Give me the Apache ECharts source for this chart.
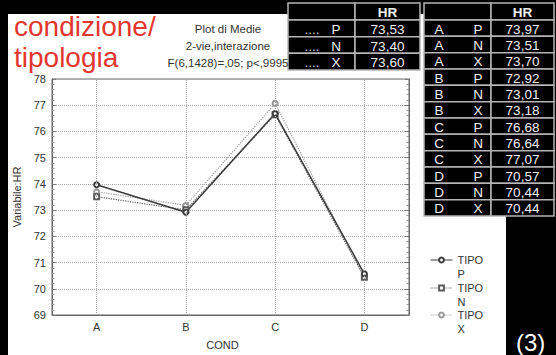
<!DOCTYPE html>
<html>
<head>
<meta charset="utf-8">
<script src="https://cdn.jsdelivr.net/npm/echarts@6/dist/echarts.min.js"></script>
<style>
  html, body { margin: 0; padding: 0; background: #000; }
  #chart { width: 556px; height: 355px; }
</style>
</head>
<body>
<div id="chart"></div>
<script>
// Means of HR by condition (COND) and type (TIPO)
const categories = ['A', 'B', 'C', 'D'];
const tipi = ['P', 'N', 'X'];
const hrP = [73.97, 72.92, 76.68, 70.57];
const hrN = [73.51, 73.01, 76.64, 70.44];
const hrX = [73.70, 73.18, 77.07, 70.44];
// Marginal means per TIPO
const hrTipo = [73.53, 73.40, 73.60];
// Y axis range
const yMin = 69;
const yMax = 78;
const yStep = 1;

const FONT = "'Liberation Sans', Arial, Helvetica, sans-serif";
const fmt = v => v.toFixed(2).replace('.', ',');
const byTipo = { P: hrP, N: hrN, X: hrX };

// ---- black tables drawn with graphic elements ----
function cell(x, y, w, h) {
  return { type: 'rect', shape: { x, y, width: w, height: h },
           style: { fill: '#000', stroke: '#b5b5b5', lineWidth: 1.5 } };
}
function txt(x, y, text, bold, color) {
  return { type: 'text', x, y,
           style: { text, fill: color || '#efefef', font: (bold ? 'bold ' : '') + '13.5px ' + FONT,
                    textAlign: 'center', textVerticalAlign: 'middle' } };
}

const tables = [];
// table of marginal means
{
  const x0 = 288, xs = 355, x1 = 420, hy0 = 3, hy1 = 20, rh = 16.67;
  tables.push(cell(x0, hy0, xs - x0, hy1 - hy0), cell(xs, hy0, x1 - xs, hy1 - hy0));
  tables.push(txt((xs + x1) / 2, (hy0 + hy1) / 2 + 1, 'HR', true));
  tipi.forEach((t, i) => {
    const y = hy1 + i * rh;
    tables.push(cell(x0, y, xs - x0, rh), cell(xs, y, x1 - xs, rh));
    tables.push(txt(312, y + rh / 2 + 1, '....', false, '#cfcfcf'));
    tables.push(txt(336, y + rh / 2 + 1, t));
    tables.push(txt((xs + x1) / 2, y + rh / 2 + 1, fmt(hrTipo[i])));
  });
}
// table of cell means
{
  const x0 = 424, xs = 491, x1 = 554, hy0 = 3, hy1 = 20, rh = 16.33;
  tables.push(cell(x0, hy0, xs - x0, hy1 - hy0), cell(xs, hy0, x1 - xs, hy1 - hy0));
  tables.push(txt((xs + x1) / 2, (hy0 + hy1) / 2 + 1, 'HR', true));
  let r = 0;
  categories.forEach((c, ci) => {
    tipi.forEach(t => {
      const y = hy1 + r * rh;
      tables.push(cell(x0, y, xs - x0, rh), cell(xs, y, x1 - xs, rh));
      tables.push(txt(439, y + rh / 2 + 1, c));
      tables.push(txt(478, y + rh / 2 + 1, t));
      tables.push(txt((xs + x1) / 2, y + rh / 2 + 1, fmt(byTipo[t][ci])));
      r++;
    });
  });
}

const chart = echarts.init(document.getElementById('chart'), null, { renderer: 'svg' });

const seriesStyle = {
  P: { color: '#3c3c3c', type: 'solid', width: 1.5, symbol: 'emptyCircle', size: 5 },
  N: { color: '#5a5a5a', type: 'dotted', width: 1.2, symbol: 'emptyRect', size: 5 },
  X: { color: '#999999', type: 'dotted', width: 1.2, symbol: 'emptyCircle', size: 5 }
};

function lineSeries(t, withGrid) {
  const s = seriesStyle[t];
  const out = {
    name: t, type: 'line', data: byTipo[t],
    symbol: s.symbol, symbolSize: s.size,
    lineStyle: { color: s.color, width: s.width, type: s.type },
    itemStyle: { color: s.color, borderColor: s.color, borderWidth: 1.1 },
    emphasis: { disabled: true }, animation: false
  };
  if (withGrid) {
    out.markLine = {
      silent: true, symbol: 'none', animation: false,
      label: { show: false },
      lineStyle: { color: '#a8a8a8', type: 'dotted', width: 1 },
      data: categories.map(c => ({ xAxis: c }))
    };
  }
  return out;
}

// legend text is three lines with a blank first line, so the icon sits beside "TIPO"
const legendTops = [234, 262, 289];
const yAxisBase = {
  type: 'value', min: yMin, max: yMax, interval: yStep,
  axisLine: { show: true, lineStyle: { color: '#666', width: 1 } },
  axisTick: { show: true, inside: true, length: 4, lineStyle: { color: '#777' } },
  minorTick: { show: true, splitNumber: 5, length: 2.5, lineStyle: { color: '#999' } }
};

chart.setOption({
  backgroundColor: '#000',
  animation: false,
  textStyle: { fontFamily: FONT },
  graphic: [
    { type: 'rect', z: -10, shape: { x: 8, y: 14, width: 498, height: 341 }, style: { fill: '#fff' } },
    { type: 'group', children: tables }
  ],
  title: [
    { text: 'condizione/\ntipologia', left: 9, top: 6,
      textStyle: { color: '#e2362f', fontSize: 28, fontWeight: 'normal', lineHeight: 31, fontFamily: FONT } },
    { text: 'Plot di Medie\n2-vie,interazione\nF(6,1428)=,05; p<,9995', left: 223, top: 15, textAlign: 'center',
      textStyle: { color: '#333', fontSize: 11.5, fontWeight: 'normal', lineHeight: 17, fontFamily: FONT } },
    { text: '(3)', left: 511, top: 325,
      textStyle: { color: '#fff', fontSize: 24, fontWeight: 'normal', fontFamily: FONT } }
  ],
  legend: tipi.map((t, i) => ({
    data: [t], left: 425, top: legendTops[i], orient: 'vertical',
    itemWidth: 22, itemHeight: 6, selectedMode: false,
    lineStyle: { width: 1 },
    itemStyle: { borderWidth: 1 },
    formatter: n => ' \nTIPO\n' + n,
    textStyle: { color: '#333', fontSize: 11, lineHeight: 14, fontFamily: FONT }
  })),
  grid: { left: 52, top: 79, right: 147, bottom: 37, show: true,
          backgroundColor: '#fff', borderColor: '#666', borderWidth: 1 },
  xAxis: {
    type: 'category', data: categories, boundaryGap: true,
    name: 'COND', nameLocation: 'middle', nameGap: 24,
    nameTextStyle: { color: '#333', fontSize: 11, padding: [0, 16, 0, 0] },
    axisLine: { lineStyle: { color: '#666' } },
    axisTick: { show: false },
    axisLabel: { color: '#333', fontSize: 11, margin: 6 },
    splitLine: { show: false }
  },
  yAxis: [
    Object.assign({}, yAxisBase, {
      position: 'left',
      name: 'Variabile:HR', nameLocation: 'middle', nameGap: 30,
      nameTextStyle: { color: '#333', fontSize: 11 },
      axisLabel: { color: '#333', fontSize: 11, margin: 6 },
      splitLine: { show: true, lineStyle: { color: '#a8a8a8', type: 'dotted', width: 1 } }
    }),
    Object.assign({}, yAxisBase, {
      position: 'right',
      axisLabel: { show: false },
      splitLine: { show: false }
    })
  ],
  series: [lineSeries('X', true), lineSeries('N'), lineSeries('P')]
});
</script>
</body>
</html>
